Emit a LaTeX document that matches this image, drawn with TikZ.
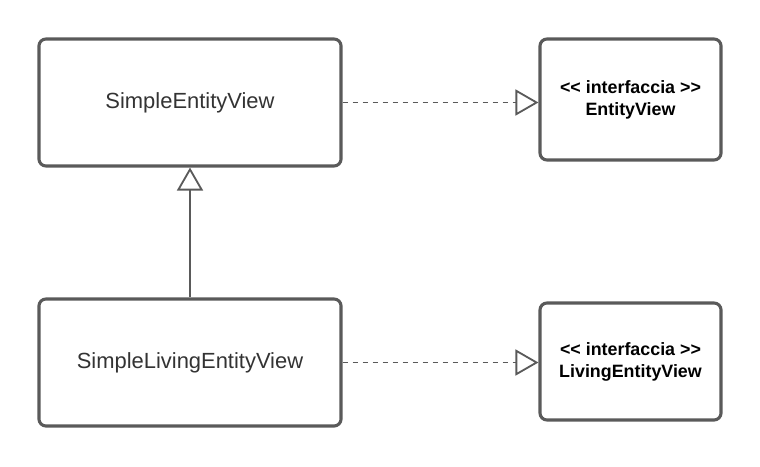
\documentclass[tikz,border=0pt]{standalone}
\usepackage{fontspec}
\setmainfont{Liberation Sans}[Ligatures=ResetAll]
\usetikzlibrary{arrows.meta}
\definecolor{edge}{HTML}{5A5A5A}
\definecolor{ink}{HTML}{333333}
\tikzset{
  classbox/.style={draw=edge, line width=2.2pt, rounded corners=5pt, fill=white,
    text=ink, font=\fontsize{15.6pt}{18pt}\selectfont,
    minimum width=7.55cm, minimum height=3.175cm},
  ifacebox/.style={draw=edge, line width=2.2pt, rounded corners=5pt, fill=white,
    text=black, align=center, font=\bfseries\fontsize{12.7pt}{15.6pt}\selectfont,
    minimum width=4.525cm},
  realize/.style={draw=edge, line width=1.3pt, dash pattern=on 0.14cm off 0.11cm,
    -{Triangle[open, length=0.575cm, width=0.65cm, line width=1.3pt]}},
  inherit/.style={draw=edge, line width=1.3pt,
    -{Triangle[open, length=0.575cm, width=0.65cm, line width=1.3pt]}},
}
\begin{document}
\begin{tikzpicture}[x=0.025cm, y=-0.025cm]
  \useasboundingbox (0,0) rectangle (760,466);

  \node[classbox] (simpleview) at (190,102.5) {SimpleEntityView};
  \node[classbox] (simpleliving) at (190,362.5) {SimpleLivingEntityView};
  \node[ifacebox, minimum height=3.025cm] (entityview) at (630.5,99.5)
    {<\kern0pt< interfaccia >\kern0pt>\\EntityView};
  \node[ifacebox, minimum height=2.925cm] (livingview) at (630.5,361.5)
    {<\kern0pt< interfaccia >\kern0pt>\\LivingEntityView};

  \draw[realize] (simpleview.east) -- (simpleview.east -| entityview.west);
  \draw[realize] (simpleliving.east) -- (simpleliving.east -| livingview.west);
  \draw[inherit] (simpleliving.north) -- (simpleview.south);
\end{tikzpicture}
\end{document}
